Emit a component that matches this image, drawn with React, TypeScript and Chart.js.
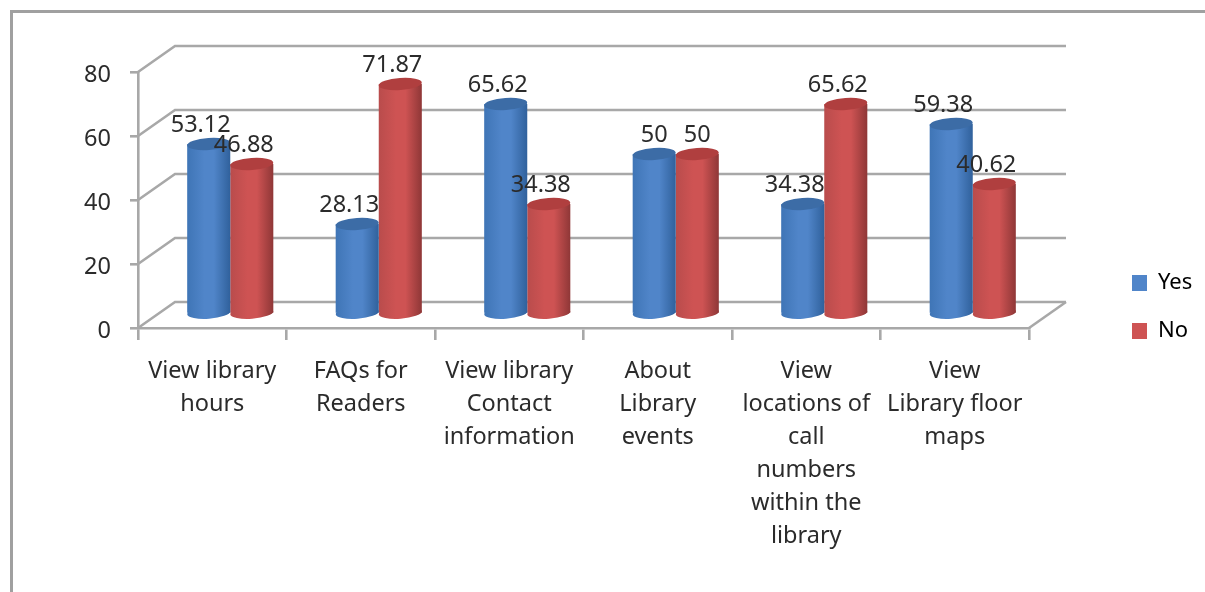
import React, { useEffect, useRef } from "react";
import { Chart, registerables } from "chart.js";

Chart.register(...registerables);

const categories = [
  ["View library", "hours"],
  ["FAQs for", "Readers"],
  ["View library", "Contact", "information"],
  ["About", "Library", "events"],
  ["View", "locations of", "call", "numbers", "within the", "library"],
  ["View", "Library floor", "maps"],
];
const yesValues = [53.12, 28.13, 65.62, 50, 34.38, 59.38];
const noValues = [46.88, 71.87, 34.38, 50, 65.62, 40.62];

const FONT = "'Noto Sans', sans-serif";
const GRID = "#a8a8a8";
const TEXT = "#2b2b2b";
const DEPTH_X = 37;
const DEPTH_Y = -26;
const SHIFT_X = 18;
const SHIFT_Y = -14;
const ELLIPSE_RY = 6;
const TILT = -0.07;

const palettes = [
  { edgeL: "#3f75b6", mid: "#5085c9", edgeR: "#30619c", top: "#3c6ca6" },
  { edgeL: "#b94c4c", mid: "#ce5353", edgeR: "#8f3737", top: "#b03f3f" },
];

function barGradient(c: any) {
  const chart = c.chart;
  const x = chart.scales.x;
  if (!x || c.dataIndex === undefined) return palettes[c.datasetIndex ?? 0].mid;
  const half = ((x.width / categories.length) * 0.58) / 2;
  const cx = x.getPixelForValue(c.dataIndex);
  const left = c.datasetIndex === 0 ? cx - half : cx;
  const p = palettes[c.datasetIndex];
  const g = chart.ctx.createLinearGradient(left, 0, left + half, 0);
  g.addColorStop(0, p.edgeL);
  g.addColorStop(0.4, p.mid);
  g.addColorStop(0.62, p.mid);
  g.addColorStop(1, p.edgeR);
  return g;
}

const wallPlugin = {
  id: "wall3d",
  beforeLayout(chart: any) {
    const l = chart.legend;
    if (l && !l.__patched) {
      const fit = l.fit.bind(l);
      l.fit = () => {
        fit();
        l.width = 176;
      };
      l.__patched = true;
    }
  },
  afterLayout(chart: any) {
    const l = chart.legend;
    if (l) {
      l.left = 1106;
      l.right = 1205;
      l.top = 246;
      l.bottom = 400;
    }
  },
  beforeDatasetsDraw(chart: any) {
    const { ctx, chartArea, scales } = chart;
    const { left, right } = chartArea;
    ctx.save();
    ctx.strokeStyle = GRID;
    ctx.lineWidth = 2.6;
    scales.y.ticks.forEach((t: any) => {
      const y = scales.y.getPixelForValue(t.value);
      ctx.beginPath();
      ctx.moveTo(left, y);
      ctx.lineTo(left + DEPTH_X, y + DEPTH_Y);
      ctx.lineTo(right + DEPTH_X, y + DEPTH_Y);
      ctx.stroke();
    });
    const y0 = scales.y.getPixelForValue(0);
    ctx.beginPath();
    ctx.moveTo(right, y0);
    ctx.lineTo(right + DEPTH_X, y0 + DEPTH_Y);
    ctx.stroke();
    ctx.restore();
    ctx.save();
    ctx.translate(SHIFT_X, SHIFT_Y);
    // lower rims of the cylinders
    chart.data.datasets.forEach((_: any, d: number) => {
      chart.getDatasetMeta(d).data.forEach((el: any) => {
        ctx.fillStyle = el.options.backgroundColor;
        ctx.beginPath();
        ctx.ellipse(el.x, el.base, el.width / 2, ELLIPSE_RY, TILT, 0, Math.PI * 2);
        ctx.fill();
      });
    });
  },
  afterDatasetsDraw(chart: any) {
    const { ctx } = chart;
    chart.data.datasets.forEach((_: any, d: number) => {
      chart.getDatasetMeta(d).data.forEach((el: any) => {
        ctx.fillStyle = palettes[d].top;
        ctx.beginPath();
        ctx.ellipse(el.x, el.y, el.width / 2, ELLIPSE_RY, TILT, 0, Math.PI * 2);
        ctx.fill();
      });
    });
    ctx.restore();
    ctx.save();
    ctx.font = `23.5px ${FONT}`;
    ctx.fillStyle = TEXT;
    ctx.textAlign = "center";
    ctx.textBaseline = "middle";
    chart.data.datasets.forEach((ds: any, d: number) => {
      chart.getDatasetMeta(d).data.forEach((el: any, i: number) => {
        const label = String(ds.data[i]);
        const dx = label.length > 2 ? -8 : 0;
        ctx.fillText(label, el.x + SHIFT_X + dx, el.y + SHIFT_Y - 19);
      });
    });
    ctx.restore();
  },
};

export default function App() {
  const ref = useRef<HTMLCanvasElement>(null);
  useEffect(() => {
    const chart = new Chart(ref.current as HTMLCanvasElement, {
      type: "bar",
      data: {
        labels: categories as any,
        datasets: [
          { label: "Yes", data: yesValues, backgroundColor: barGradient as any },
          { label: "No", data: noValues, backgroundColor: barGradient as any },
        ].map((d) => ({ ...d, clip: false as any, categoryPercentage: 0.58, barPercentage: 1, borderWidth: 0 })),
      },
      options: {
        responsive: false,
        animation: false,
        events: [],
        layout: { padding: { left: 68, right: 0, top: 72, bottom: 24 } },
        plugins: {
          tooltip: { enabled: false },
          legend: {
            position: "right",
            align: "start",
            labels: {
              boxWidth: 15,
              boxHeight: 16,
              padding: 26,
              color: TEXT,
              font: { family: FONT, size: 22 },
              generateLabels: () =>
                ["Yes", "No"].map((text, i) => ({
                  text,
                  fillStyle: palettes[i].mid,
                  strokeStyle: palettes[i].mid,
                  lineWidth: 0,
                  hidden: false,
                  datasetIndex: i,
                })),
            },
          },
        },
        scales: {
          x: {
            afterFit: (s: any) => {
              s.height = 240;
            },
            grid: { drawOnChartArea: false, drawTicks: true, tickLength: 12, color: GRID, lineWidth: 2.6 },
            border: { color: GRID, width: 2.6 },
            ticks: {
              autoSkip: false,
              maxRotation: 0,
              minRotation: 0,
              color: TEXT,
              padding: 15,
              font: { family: FONT, size: 23.5, lineHeight: 1.4 },
            },
          },
          y: {
            min: 0,
            max: 80,
            afterFit: (s: any) => {
              s.width = 70;
            },
            grid: { drawOnChartArea: false, drawTicks: true, tickLength: 8, color: GRID, lineWidth: 2.6 },
            border: { color: GRID, width: 2.6 },
            ticks: {
              stepSize: 20,
              color: TEXT,
              padding: 19,
              labelOffset: 3,
              font: { family: FONT, size: 23.5 },
            },
          },
        },
      },
      plugins: [wallPlugin as any],
    });
    return () => chart.destroy();
  }, []);
  return (
    <div style={{ position: "fixed", inset: 0, overflow: "hidden", background: "#fff" }}>
      <canvas
        ref={ref}
        width={1205}
        height={592}
        style={{ display: "block", width: 1205, height: 592, filter: "blur(0.6px)" }}
      />
      <div
        style={{
          position: "absolute",
          left: 10,
          top: 10,
          width: 3000,
          height: 3000,
          borderLeft: "3px solid #a0a0a0",
          borderTop: "3px solid #a0a0a0",
        }}
      />
    </div>
  );
}
